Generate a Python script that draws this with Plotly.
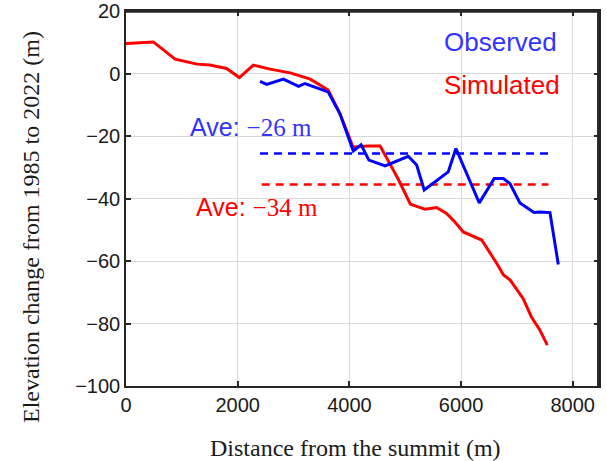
import plotly.graph_objects as go

# Simulated (red)
sim_x = [0, 490, 880, 1270, 1500, 1800, 2030, 2280, 2580, 2940, 3300, 3620, 3830, 4065,
         4340, 4550, 4790, 4880, 5060, 5090, 5350, 5560, 5740, 5890, 6040, 6160, 6370,
         6640, 6760, 6880, 7110, 7260, 7410, 7545]
sim_y = [9.6, 10.1, 4.6, 3.0, 2.7, 1.6, -1.3, 2.7, 1.4, 0.2, -1.8, -5.3, -12.8, -23.5,
         -23.2, -23.2, -31, -34, -40.6, -41.8, -43.4, -42.9, -44.8, -47.5, -50.7, -51.7, -53.3,
         -60.8, -64.5, -66.1, -72, -77.9, -82.1, -86.9]

# Observed (blue)
obs_x = [2400, 2520, 2820, 3090, 3205, 3620, 3830, 4070, 4210, 4350, 4640, 5055, 5205,
         5340, 5770, 5908, 6326, 6594, 6756, 6875, 7054, 7306, 7413, 7592, 7741]
obs_y = [-2.5, -3.5, -1.8, -4.1, -3.2, -5.9, -12.8, -24.8, -22.8, -27.7, -29.6, -26.5, -29.3,
         -37.3, -31.5, -24, -41.4, -33.6, -33.6, -35.2, -41.4, -44.5, -44.3, -44.5, -61.1]

# Averages (dashed)
obs_avg_x = [2400, 7650]
obs_avg_y = [-25.6, -25.6]
sim_avg_x = [2430, 7565]
sim_avg_y = [-35.5, -35.5]

x_ticks = [0, 2000, 4000, 6000, 8000]
y_ticks = [-100, -80, -60, -40, -20, 0, 20]

RED = "#ff0000"
BLUE = "#0000ff"
BLUE_TXT = "#3333ff"
FRAME = "#262626"

fig = go.Figure()
fig.add_trace(go.Scatter(x=sim_avg_x, y=sim_avg_y, mode="lines",
                         line=dict(color=RED, width=2.5, dash="8px,6px")))
fig.add_trace(go.Scatter(x=obs_avg_x, y=obs_avg_y, mode="lines",
                         line=dict(color=BLUE, width=2.5, dash="8px,6px")))
fig.add_trace(go.Scatter(x=sim_x, y=sim_y, mode="lines",
                         line=dict(color=RED, width=3)))
fig.add_trace(go.Scatter(x=obs_x, y=obs_y, mode="lines",
                         line=dict(color=BLUE, width=3)))

axis_common = dict(showline=True, linecolor=FRAME, linewidth=1.5, mirror="allticks",
                   ticks="inside", ticklen=5, tickcolor=FRAME, tickwidth=1.5,
                   showgrid=True, gridcolor="#d9d9d9", gridwidth=1, zeroline=False,
                   automargin=False,
                   tickfont=dict(family="Liberation Sans, Arial", size=20, color="#1a1a1a"))

fig.update_xaxes(range=[0, 8470], tickvals=x_ticks, ticktext=[str(v) for v in x_ticks],
                 **axis_common)
fig.update_yaxes(range=[-100, 20], tickvals=y_ticks,
                 ticktext=[str(v).replace("-", "\u2212") for v in y_ticks], **axis_common)

serif = "Liberation Serif, Times New Roman"
sans = "Liberation Sans, Arial"
annos = [
    dict(x=7753, y=10.0, xref="x", yref="y", text="Observed", xanchor="right", yanchor="middle",
         showarrow=False, font=dict(family=sans, size=26, color=BLUE_TXT)),
    dict(x=7800, y=-3.7, xref="x", yref="y", text="Simulated", xanchor="right", yanchor="middle",
         showarrow=False, font=dict(family=sans, size=26, color=RED)),
    dict(x=1110, y=-17.2, xref="x", yref="y",
         text="Ave: <span style='font-family:Liberation Serif'>\u221226 m</span>",
         xanchor="left", yanchor="middle", showarrow=False,
         font=dict(family=sans, size=25, color=BLUE_TXT)),
    dict(x=1218, y=-42.8, xref="x", yref="y",
         text="Ave: <span style='font-family:Liberation Serif'>\u221234 m</span>",
         xanchor="left", yanchor="middle", showarrow=False,
         font=dict(family=sans, size=25, color=RED)),
    dict(x=355, y=448, xref="paper", yref="paper", text="Distance from the summit (m)",
         showarrow=False, xanchor="center", yanchor="middle",
         font=dict(family=serif, size=24, color="#1a1a1a")),
    dict(x=31, y=227, xref="paper", yref="paper", text="Elevation change from 1985 to 2022 (m)",
         showarrow=False, xanchor="center", yanchor="middle", textangle=-90,
         font=dict(family=serif, size=24, color="#1a1a1a")),
]

W, H = 607, 461
L, T = 126, 11
R = W - 599
B = H - 386
pw, ph = W - L - R, H - T - B
for a in annos[4:]:
    a["x"] = (a["x"] - L) / pw
    a["y"] = 1 - (a["y"] - T) / ph

# explicit frame on top and right (slightly inset so it is never clipped)
frame_shapes = [
    dict(type="line", xref="paper", yref="paper", x0=0, x1=1, y0=0.998, y1=0.998,
         line=dict(color=FRAME, width=2), layer="above"),
    dict(type="line", xref="paper", yref="paper", x0=0.998, x1=0.998, y0=0, y1=1,
         line=dict(color=FRAME, width=2), layer="above"),
]

fig.update_layout(width=W, height=H, margin=dict(l=L, r=R, t=T, b=B, autoexpand=False),
                  paper_bgcolor="white", plot_bgcolor="white", showlegend=False,
                  annotations=annos, shapes=frame_shapes)

fig.write_html("out.html", config={"displayModeBar": False},
               post_script="document.body.style.margin='0';document.body.style.overflow='hidden';")
